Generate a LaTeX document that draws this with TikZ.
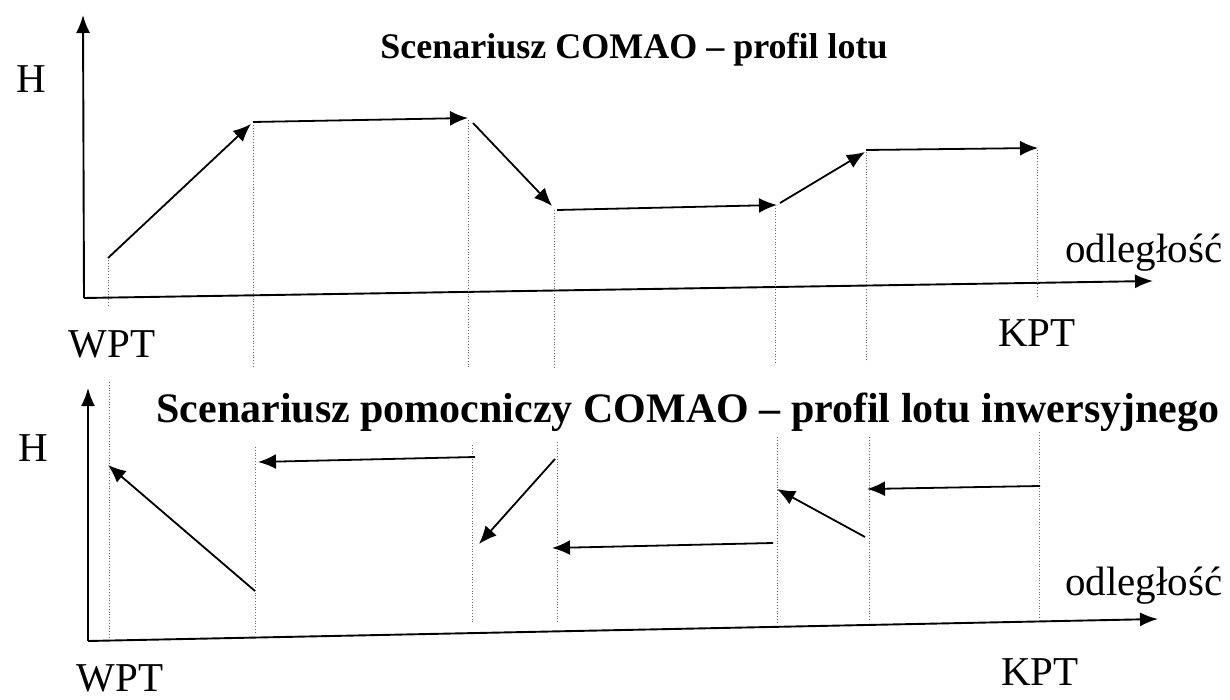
\documentclass[tikz,border=0pt]{standalone}
\usepackage{fontspec}
\setmainfont{Liberation Serif}
\usetikzlibrary{arrows.meta}
\begin{document}
\begin{tikzpicture}[x=1pt,y=-1pt,
  axisline/.style={line width=1.9pt,-{Latex[length=18pt,width=14pt]}},
  legline/.style={line width=1.8pt,-{Latex[length=18pt,width=15pt]}},
  guide/.style={line width=0.8pt,dotted,black!60},
  lbl/.style={inner sep=0pt,anchor=base,font=\fontsize{41}{48}\selectfont},
  ttl/.style={inner sep=0pt,anchor=base,font=\bfseries}]
\useasboundingbox (0,0) rectangle (1230,700);

% ---------- upper panel: flight profile ----------
\coordinate (ua0) at (84,298);
\coordinate (uay) at (83,15);
\coordinate (uax) at (1153,281);
\draw[axisline] (ua0) -- (uay);
\draw[axisline] (ua0) -- (uax);

\node[lbl] (uH) at (31,93) {H};
\node[lbl] (uWPT) at (112,357) {WPT};
\node[lbl] (uKPT) at (1037,346) {KPT};
\node[lbl,anchor=base west] (uodl) at (1065,263) {odległość};
\node[ttl,font=\bfseries\fontsize{36}{42}\selectfont] (uttl) at (634,59) {Scenariusz COMAO – profil lotu};

% guide lines
\foreach \x/\a/\b [count=\i] in {108/260/305, 253/125/368, 468/120/367, 554/210/367, 775/208/363, 866/152/362, 1037/150/296}{
  \coordinate (ugt\i) at (\x,\a);
  \coordinate (ugb\i) at (\x,\b);
  \draw[guide] (ugt\i) -- (ugb\i);
}

% profile legs
\coordinate (us1) at (108,258);  \coordinate (ue1) at (251,124);
\coordinate (us2) at (253,122);  \coordinate (ue2) at (468,118);
\coordinate (us3) at (473,123);  \coordinate (ue3) at (552,206);
\coordinate (us4) at (557,210);  \coordinate (ue4) at (777,205);
\coordinate (us5) at (780,203);  \coordinate (ue5) at (865,152);
\coordinate (us6) at (866,150);  \coordinate (ue6) at (1038,148);
\foreach \i in {1,...,6}{\draw[legline] (us\i) -- (ue\i);}

% ---------- lower panel: inverse flight profile ----------
\coordinate (la0) at (88,641);
\coordinate (lay) at (88,388);
\coordinate (lax) at (1158,619);
\draw[axisline] (la0) -- (lay);
\draw[axisline] (la0) -- (lax);

\node[lbl] (lH) at (33,461) {H};
\node[lbl] (lWPT) at (120,691) {WPT};
\node[lbl] (lKPT) at (1040,685) {KPT};
\node[lbl,anchor=base west] (lodl) at (1065,595) {odległość};
\node[ttl,font=\bfseries\fontsize{42}{48}\selectfont] (lttl) at (688,422) {Scenariusz pomocniczy COMAO – profil lotu inwersyjnego};

% guide lines
\foreach \x/\a/\b [count=\i] in {109/382/638, 255/447/632, 472/445/623, 557/442/623, 777/437/622, 869/437/621, 1039/432/618}{
  \coordinate (lgt\i) at (\x,\a);
  \coordinate (lgb\i) at (\x,\b);
  \draw[guide] (lgt\i) -- (lgb\i);
}

% inverse legs
\coordinate (ls1) at (255,591);  \coordinate (le1) at (108,465);
\coordinate (ls2) at (475,457);  \coordinate (le2) at (258,462);
\coordinate (ls3) at (555,459);  \coordinate (le3) at (479,544);
\coordinate (ls4) at (773,543);  \coordinate (le4) at (552,548);
\coordinate (ls5) at (865,537);  \coordinate (le5) at (777,489);
\coordinate (ls6) at (1040,486); \coordinate (le6) at (867,489);
\foreach \i in {1,...,6}{\draw[legline] (ls\i) -- (le\i);}
\end{tikzpicture}
\end{document}
